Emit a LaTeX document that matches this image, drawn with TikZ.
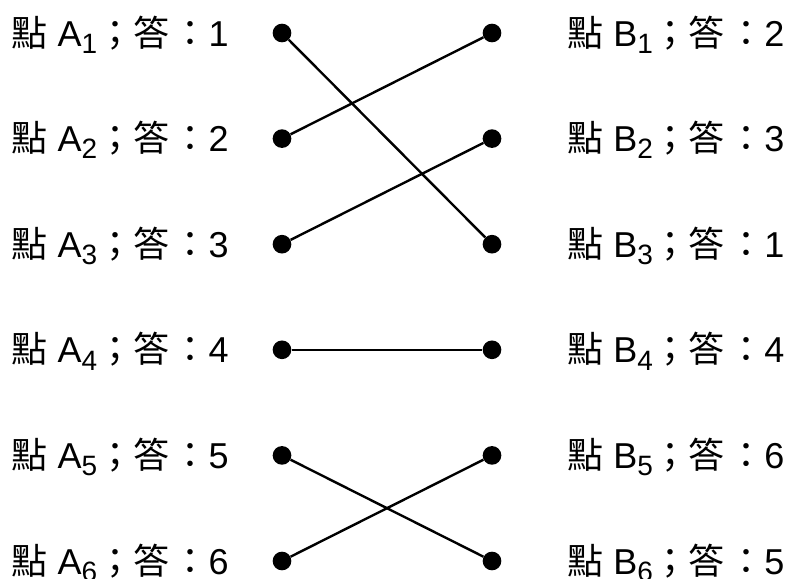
\documentclass[tikz,border=0pt]{standalone}
\usepackage{fontspec}
\setmainfont{Liberation Sans}
\newfontfamily\cjk{Noto Sans CJK TC}

\newcommand{\subidx}[1]{\raisebox{-0.2em}{\fontsize{21pt}{21pt}\selectfont #1}}
\newcommand{\pointlabel}[3]{{\cjk 點} #1\subidx{#2}{\cjk ；答\hspace{0.1em}：}#3}

\tikzset{
  dot/.style={circle, fill=black, inner sep=0pt, minimum size=14pt},
  label text/.style={font=\fontsize{27pt}{30pt}\selectfont, inner sep=0pt},
  pair/.style={line width=1.8pt}
}

\begin{document}
\begin{tikzpicture}[x=0.75pt, y=-0.75pt]

\useasboundingbox (0,0) rectangle (790,579);

% Punkte und Beschriftungen
\foreach \i/\ra/\rb in {1/1/2, 2/2/3, 3/3/1, 4/4/4, 5/5/6, 6/6/5} {
  \pgfmathsetmacro{\ypos}{33+(\i-1)*105.6}
  \node[dot] (a\i) at (282,\ypos) {};
  \node[dot] (b\i) at (492,\ypos) {};
  \node[label text, anchor=base east] (la\i) at (229,\ypos+13) {\pointlabel{A}{\i}{\ra}};
  \node[label text, anchor=base west] (lb\i) at (567,\ypos+13) {\pointlabel{B}{\i}{\rb}};
}

% Verbindungen
\draw[pair] (a1) -- (b3);
\draw[pair] (a2) -- (b1);
\draw[pair] (a3) -- (b2);
\draw[pair] (a4) -- (b4);
\draw[pair] (a5) -- (b6);
\draw[pair] (a6) -- (b5);

\end{tikzpicture}
\end{document}
